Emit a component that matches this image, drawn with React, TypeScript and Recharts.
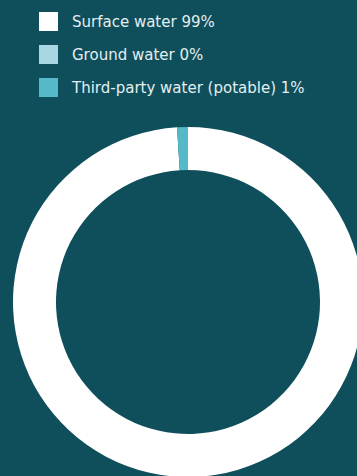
import React from "react";
import { PieChart, Pie, Cell, Legend } from "recharts";

const categories = ["Surface water", "Ground water", "Third-party water (potable)"];
const shares = [99, 0, 1];
const colors = ["#ffffff", "#a8d6e2", "#56b9c9"];

const data = categories.map((name, i) => ({ name, value: shares[i] }));

const BG = "#0e4f5b";

const renderLegend = () => (
  <div style={{ position: "absolute", left: 39, top: 12 }}>
    {data.map((d, i) => (
      <div key={d.name} style={{ display: "flex", alignItems: "center", height: 19, marginBottom: 14 }}>
        <div style={{ width: 19, height: 19, background: colors[i], flex: "none" }} />
        <span
          style={{
            marginLeft: 14,
            color: "#e4eef0",
            fontFamily: "'DejaVu Sans', sans-serif",
            fontSize: 15,
            whiteSpace: "nowrap",
          }}
        >
          {`${d.name} ${d.value}%`}
        </span>
      </div>
    ))}
  </div>
);

export default function App() {
  return (
    <div style={{ position: "absolute", left: 0, top: 0, width: 357, height: 476, background: BG, overflow: "hidden" }}>
      <PieChart width={357} height={476} margin={{ top: 0, right: 0, bottom: 0, left: 0 }}>
        <Legend content={renderLegend} wrapperStyle={{ position: "absolute", left: 0, top: 0, width: 357 }} />
        <Pie
          data={data}
          dataKey="value"
          nameKey="name"
          cx={188}
          cy={302}
          innerRadius={132}
          outerRadius={175}
          startAngle={90}
          endAngle={-270}
          stroke="none"
          isAnimationActive={false}
        >
          {data.map((d, i) => (
            <Cell key={d.name} fill={colors[i]} />
          ))}
        </Pie>
      </PieChart>
    </div>
  );
}
